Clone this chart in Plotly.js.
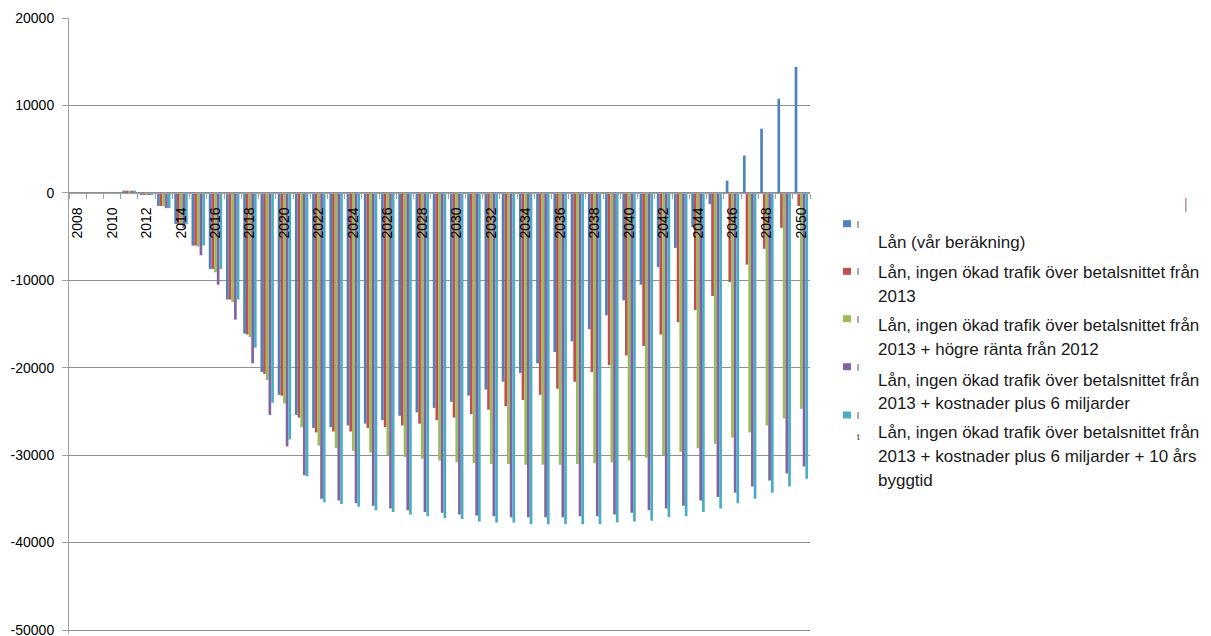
<!DOCTYPE html>
<html>
<head>
<meta charset="utf-8">
<script src="https://cdn.plot.ly/plotly-3.0.1.min.js"></script>
<style>
html,body{margin:0;padding:0;background:#fff;}
#chart{width:1211px;height:636px;}
</style>
</head>
<body>
<div id="chart"></div>
<script>
// ---- data ----
var years = [2008,2009,2010,2011,2012,2013,2014,2015,2016,2017,2018,2019,2020,2021,2022,2023,2024,2025,2026,2027,2028,2029,2030,2031,2032,2033,2034,2035,2036,2037,2038,2039,2040,2041,2042,2043,2044,2045,2046,2047,2048,2049,2050];

var seriesNames = [
  "Lån (vår beräkning)",
  "Lån, ingen ökad trafik över betalsnittet från 2013",
  "Lån, ingen ökad trafik över betalsnittet från 2013 + högre ränta från 2012",
  "Lån, ingen ökad trafik över betalsnittet från 2013 + kostnader plus 6 miljarder",
  "Lån, ingen ökad trafik över betalsnittet från 2013 + kostnader plus 6 miljarder + 10 års byggtid"
];

var lanVar = [0,0,0,250,-250,-1500,-3550,-6030,-8700,-12200,-16100,-20500,-23100,-25400,-26900,-26800,-26600,-26400,-26000,-25500,-25100,-24600,-23900,-23200,-22500,-21600,-20600,-19500,-18200,-17000,-15600,-14000,-12300,-10500,-8500,-6300,-3900,-1300,1400,4260,7340,10760,14410];

var lanIngenTrafik = [0,0,0,250,-250,-1500,-3600,-6030,-8700,-12200,-16200,-20700,-23200,-25700,-27400,-27300,-27300,-26900,-26800,-26600,-26400,-26000,-25700,-25300,-24800,-24400,-23700,-23100,-22400,-21600,-20500,-19700,-18600,-17500,-16200,-14800,-13400,-11800,-10200,-8200,-6400,-4000,-1500];

var lanHogreRanta = [0,0,0,250,-250,-1550,-3700,-6150,-9080,-12500,-16500,-21400,-24100,-26800,-28900,-29200,-29500,-29700,-30000,-30200,-30400,-30600,-30800,-30900,-31000,-31000,-31100,-31100,-31100,-31000,-30900,-30800,-30600,-30300,-30000,-29600,-29200,-28700,-28000,-27400,-26600,-25800,-24700];

var lanKostnader = [0,0,0,250,-250,-1750,-4000,-7140,-10500,-14500,-19500,-25400,-29000,-32300,-35000,-35200,-35500,-35800,-36100,-36300,-36500,-36600,-36800,-36900,-37000,-37100,-37100,-37100,-37100,-37000,-37000,-36800,-36600,-36300,-36100,-35800,-35200,-34800,-34300,-33600,-32900,-32100,-31300];

var lanByggtid = [0,0,0,250,-250,-1750,-3600,-6030,-8700,-12200,-17700,-24000,-28200,-32400,-35400,-35600,-35900,-36300,-36500,-36800,-37000,-37200,-37300,-37600,-37700,-37700,-37900,-37900,-37900,-37900,-37900,-37700,-37600,-37500,-37100,-37000,-36500,-36100,-35500,-35000,-34300,-33600,-32700];

var xTickVals = [2008,2010,2012,2014,2016,2018,2020,2022,2024,2026,2028,2030,2032,2034,2036,2038,2040,2042,2044,2046,2048,2050];
var xTickLabels = ["2008","2010","2012","2014","2016","2018","2020","2022","2024","2026","2028","2030","2032","2034","2036","2038","2040","2042","2044","2046","2048","2050"];
var yTickVals = [20000,10000,0,-10000,-20000,-30000,-40000,-50000];
var yTickLabels = ["20000","10000","0","-10000","-20000","-30000","-40000","-50000"];

// legend text lines (wrapped like the original)
var legendLines = [
  ["Lån (vår beräkning)"],
  ["Lån, ingen ökad trafik över betalsnittet från", "2013"],
  ["Lån, ingen ökad trafik över betalsnittet från", "2013 + högre ränta från 2012"],
  ["Lån, ingen ökad trafik över betalsnittet från", "2013 + kostnader plus 6 miljarder"],
  ["Lån, ingen ökad trafik över betalsnittet från", "2013 + kostnader plus 6 miljarder + 10 års", "byggtid"]
];

// ---- style ----
var colors = ["#4F81BD","#C0504D","#9BBB59","#8064A2","#4BACC6"];
var allSeries = [lanVar, lanIngenTrafik, lanHogreRanta, lanKostnader, lanByggtid];
var yMin = -50000, yMax = 20000;

var W = 1211, H = 636;
var mL = 69, mR = 401, mT = 18, mB = 2;
var plotW = W - mL - mR;
var pxPerUnit = 612 / (yMax - yMin);          // 20000 at y=18, -50000 at y=630
var yLow = yMin - 4 / pxPerUnit;                // plot bottom at y=634
var plotH = H - mT - mB;
function PX(px){ return (px - mL) / plotW; }
function PY(py){ return (H - mB - py) / plotH; }

var traces = allSeries.map(function(vals, i){
  return {
    type: 'bar',
    name: seriesNames[i],
    x: years,
    y: vals,
    marker: {color: colors[i], line: {width: 0}},
    hoverinfo: 'x+y+name'
  };
});

var tickFont = {family: 'Liberation Sans, Arial, sans-serif', size: 14, color: '#000'};
var legFont = {family: 'Liberation Sans, Arial, sans-serif', size: 17, color: '#1a1a1a'};
var stubFont = {family: 'Liberation Sans, Arial, sans-serif', size: 9, color: '#333'};

var shapes = [];
var annotations = [];
var squareY = [223.7, 271.3, 318.7, 366.7, 415];
var textY = [[242.7],[272.7,296],[325,349.3],[380,403.3],[432.7,456.7,480]];
for (var i = 0; i < colors.length; i++) {
  shapes.push({
    type: 'rect', xref: 'paper', yref: 'paper',
    x0: PX(843), x1: PX(851), y0: PY(squareY[i] + 3.5), y1: PY(squareY[i] - 3.5),
    fillcolor: colors[i], line: {width: 0}
  });
  // clipped legend stubs next to each key, as in the original
  annotations.push({
    xref: 'paper', yref: 'paper', x: PX(855), y: PY(squareY[i] + 1),
    xanchor: 'left', yanchor: 'middle', text: 'l', showarrow: false, font: stubFont
  });
  for (var j = 0; j < legendLines[i].length; j++) {
    annotations.push({
      xref: 'paper', yref: 'paper',
      x: PX(876), y: PY(textY[i][j]),
      xanchor: 'left', yanchor: 'middle',
      text: legendLines[i][j], showarrow: false,
      font: legFont, align: 'left'
    });
  }
}
annotations.push({
  xref: 'paper', yref: 'paper', x: PX(855), y: PY(437),
  xanchor: 'left', yanchor: 'middle', text: 't', showarrow: false, font: stubFont
});
annotations.push({
  xref: 'paper', yref: 'paper', x: PX(1186), y: PY(204),
  xanchor: 'center', yanchor: 'middle', text: '|', showarrow: false,
  font: {family: 'Liberation Sans, Arial, sans-serif', size: 14, color: '#888'}
});

var layout = {
  width: W, height: H,
  margin: {l: mL, r: mR, t: mT, b: mB, pad: 0},
  paper_bgcolor: '#fff', plot_bgcolor: '#fff',
  barmode: 'group',
  bargap: 0.22,
  bargroupgap: 0,
  showlegend: false,
  xaxis: {
    type: 'linear',
    range: [2007.5, 2050.5],
    anchor: 'free',
    position: (0 - yLow) / (yMax - yLow),
    tickmode: 'array',
    tickvals: xTickVals,
    ticktext: xTickLabels,
    tickangle: -90,
    ticks: 'outside', ticklen: 5, tickcolor: 'rgba(0,0,0,0)',
    ticklabelstandoff: 3,
    minor: {tick0: 2007.5, dtick: 1, ticks: 'outside', ticklen: 5, tickcolor: '#a0a0a0', tickwidth: 1, showgrid: false},
    tickfont: tickFont,
    showgrid: false, zeroline: false,
    showline: true, linecolor: '#a0a0a0', linewidth: 1,
    layer: 'above traces'
  },
  yaxis: {
    range: [yLow, yMax],
    tickmode: 'array',
    tickvals: yTickVals,
    ticktext: yTickLabels,
    ticks: 'outside', ticklen: 6, tickcolor: '#a0a0a0',
    ticklabelstandoff: 5,
    ticklabeloverflow: 'allow',
    tickfont: tickFont,
    showgrid: true, gridcolor: '#909090', gridwidth: 1,
    zeroline: false,
    showline: true, linecolor: '#a0a0a0', linewidth: 1
  },
  shapes: shapes,
  annotations: annotations
};

Plotly.newPlot('chart', traces, layout, {displayModeBar: false, staticPlot: true});
</script>
</body>
</html>
